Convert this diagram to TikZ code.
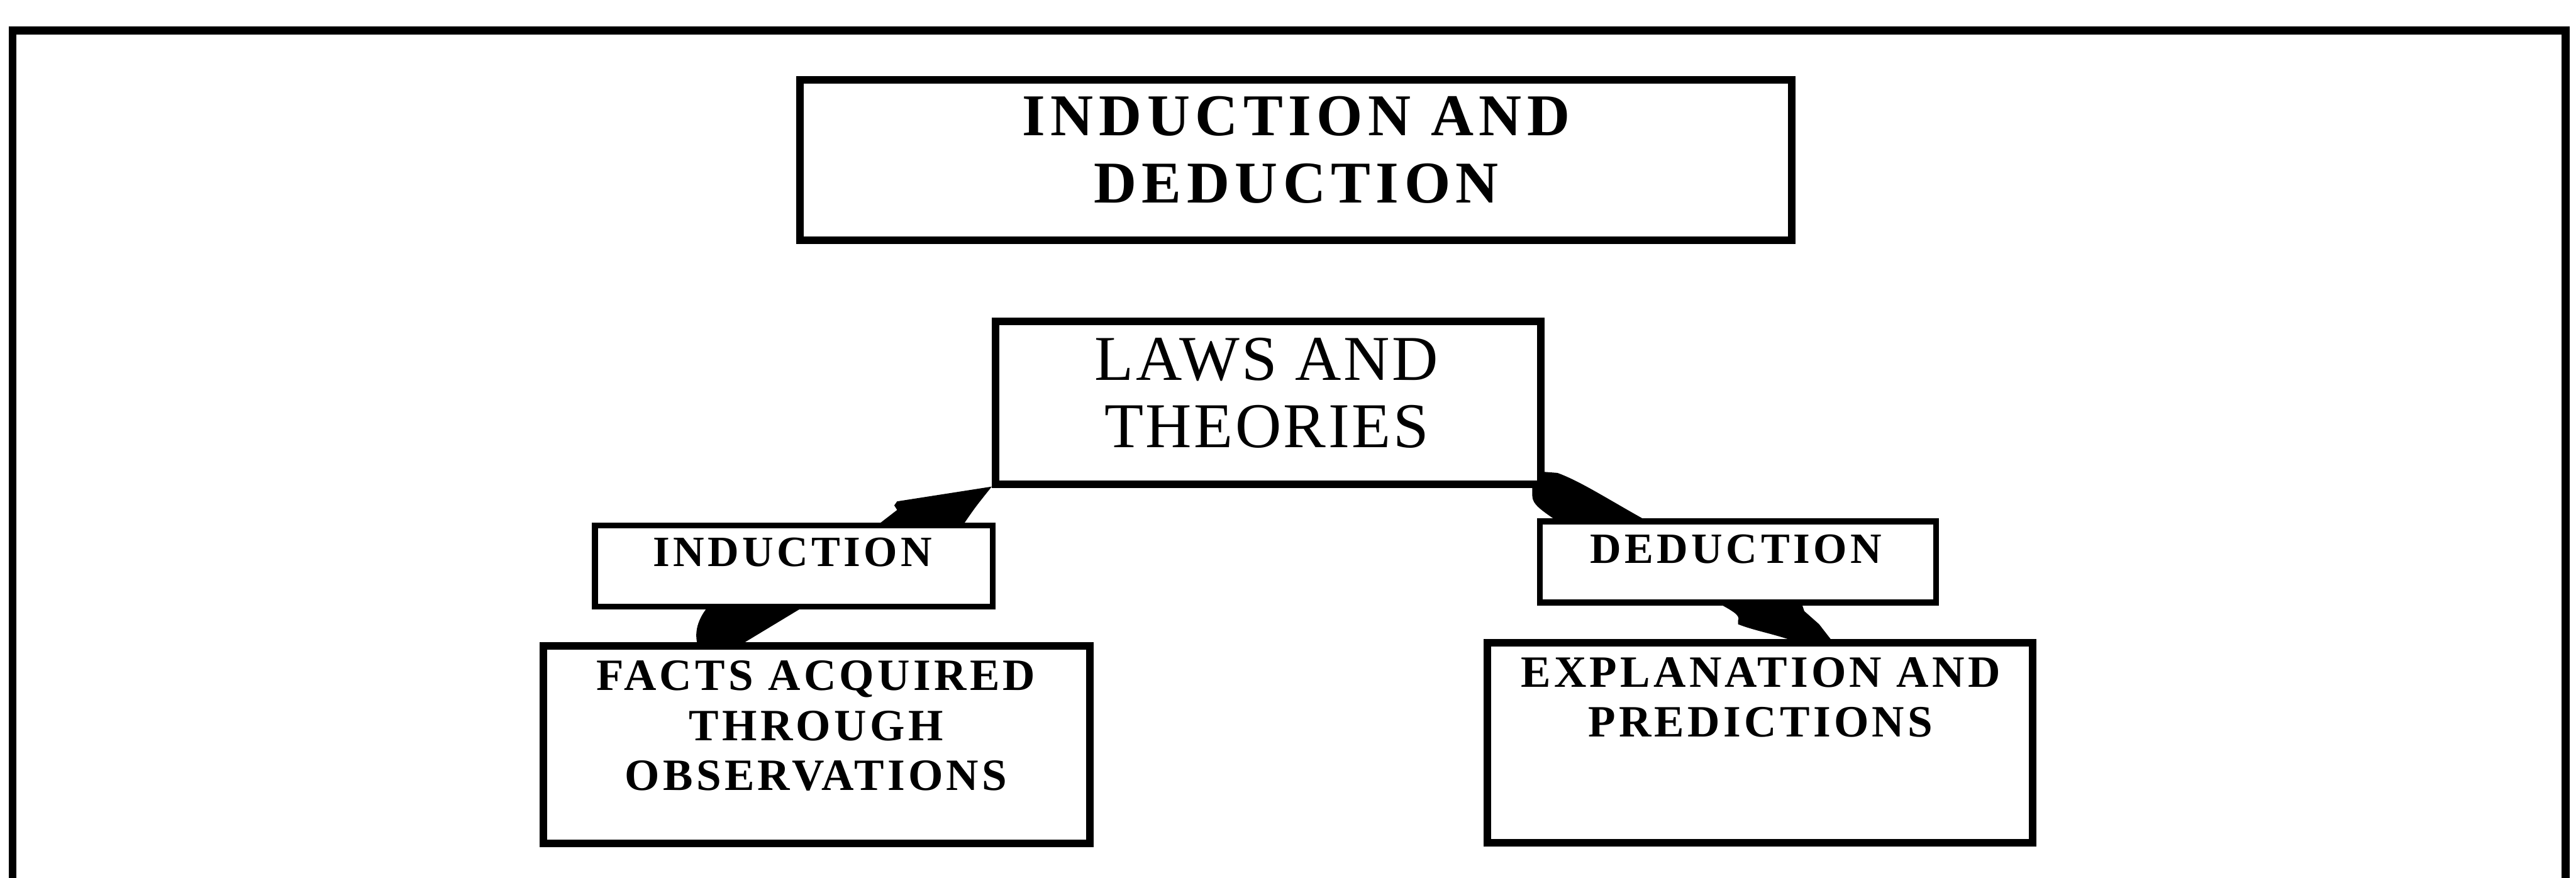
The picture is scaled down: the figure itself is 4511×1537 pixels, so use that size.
\documentclass[tikz,border=0pt]{standalone}
\usepackage{fontspec}
\setmainfont{Liberation Serif}
\newfontfamily\titlefam{Liberation Serif}[LetterSpace=9]
\newfontfamily\lawsfam{Liberation Serif}[LetterSpace=3.5]
\newfontfamily\labelfam{Liberation Serif}[LetterSpace=8]
\newfontfamily\boxfam{Liberation Serif}[LetterSpace=7.5]
\usetikzlibrary{calc,backgrounds}
\begin{document}
\begin{tikzpicture}[x=0.01cm, y=-0.01cm,
  box/.style={draw, fill=white, rectangle, inner sep=0pt, outer sep=0pt, line width=3.7pt},
  smallbox/.style={box, line width=2.85pt},
  conn/.style={fill=black},
  txt/.style={anchor=north, align=center, inner sep=0pt, outer sep=0pt}]
\useasboundingbox (0,0) rectangle (4511,1537);

% open frame round the whole chart
\draw[line width=4pt] (22,1545) -- (22,53) -- (4493,53) -- (4493,1545);

% boxes
\node[box, minimum width=17.36cm, minimum height=2.81cm] (title) at (2269,280.5) {};
\node[box, minimum width=9.54cm, minimum height=2.85cm] (laws) at (2221,705.5) {};
\node[smallbox, minimum width=6.96cm, minimum height=1.42cm] (ind) at (1390,991) {};
\node[smallbox, minimum width=6.93cm, minimum height=1.42cm] (ded) at (3043.5,984) {};
\node[box, minimum width=9.56cm, minimum height=3.46cm] (facts) at (1430,1304) {};
\node[box, minimum width=9.54cm, minimum height=3.50cm] (expl) at (3082,1301) {};

% texts
\node[txt, font={\titlefam\bfseries\fontsize{29.5pt}{33.3pt}\selectfont}] (tTitle)
  at ($(title.north)+(1,29)$) {INDUCTION AND\\DEDUCTION};
\node[txt, font={\lawsfam\fontsize{31.8pt}{33.6pt}\selectfont}] (tLaws)
  at ($(laws.north)+(-3,29)$) {LAWS AND\\THEORIES};
\node[txt, font={\labelfam\bfseries\fontsize{21.5pt}{24pt}\selectfont}] (tInd)
  at ($(ind.north)+(-2,22)$) {INDUCTION};
\node[txt, font={\labelfam\bfseries\fontsize{21.5pt}{24pt}\selectfont}] (tDed)
  at ($(ded.north)+(-3.5,23)$) {DEDUCTION};
\node[txt, font={\boxfam\bfseries\fontsize{22.3pt}{24.9pt}\selectfont}] (tFacts)
  at ($(facts.north)+(-1,26)$) {FACTS ACQUIRED\\THROUGH\\OBSERVATIONS};
\node[txt, font={\boxfam\bfseries\fontsize{22.3pt}{24.7pt}\selectfont}] (tExpl)
  at ($(expl.north)+(1,25)$) {EXPLANATION AND\\PREDICTIONS};

% heavy connectors, passing behind the boxes
\begin{pgfonlayer}{background}
  % laws -> induction
  \fill[conn] ($(laws.south west)+(-7,4)$) -- ($(ind.north)+(181,-42)$)
    -- ($(ind.north)+(176,-35)$) -- ($(ind.north)+(181,-27)$)
    -- ($(ind.north)+(146,0)$) -- ($(ind.north)+(296,0)$)
    .. controls ($(ind.north)+(318,-32)$) .. ($(laws.south west)+(-7,4)$) -- cycle;
  % induction -> facts
  \fill[conn] ($(ind.south)+(-150,0)$)
    .. controls ($(ind.south)+(-168,22)$) and ($(ind.south)+(-175,45)$) .. ($(facts.north)+(-208,0)$)
    -- ($(facts.north)+(-136,0)$) -- ($(ind.south)+(18,0)$) -- cycle;
  % laws -> deduction
  \fill[conn] ($(laws.south east)+(3,-22)$) -- ($(laws.south east)+(29,-20)$)
    .. controls ($(laws.south east)+(70,-5)$) and ($(ded.north)+(-230,-40)$) .. ($(ded.north)+(-158,0)$)
    -- ($(ded.north)+(-316,0)$)
    .. controls ($(ded.north)+(-345,-20)$) and ($(laws.south east)+(-15,35)$) .. ($(laws.south east)+(-15,20)$)
    -- ($(laws.south east)+(-15,0)$) -- ($(laws.south east)+(3,0)$) -- cycle;
  % deduction -> explanation
  \fill[conn] ($(ded.south)+(-36,0)$)
    .. controls ($(ded.south)+(-10,15)$) and ($(ded.south)+(5,22)$) .. ($(ded.south)+(0,32)$)
    -- ($(ded.south)+(0,38)$)
    .. controls ($(ded.south)+(30,50)$) and ($(expl.north)+(30,-15)$) .. ($(expl.north)+(68,0)$)
    -- ($(expl.north)+(129,0)$) -- ($(ded.south)+(142,38)$)
    -- ($(ded.south)+(116,15)$) -- ($(ded.south)+(111,0)$) -- cycle;
\end{pgfonlayer}
\end{tikzpicture}
\end{document}
